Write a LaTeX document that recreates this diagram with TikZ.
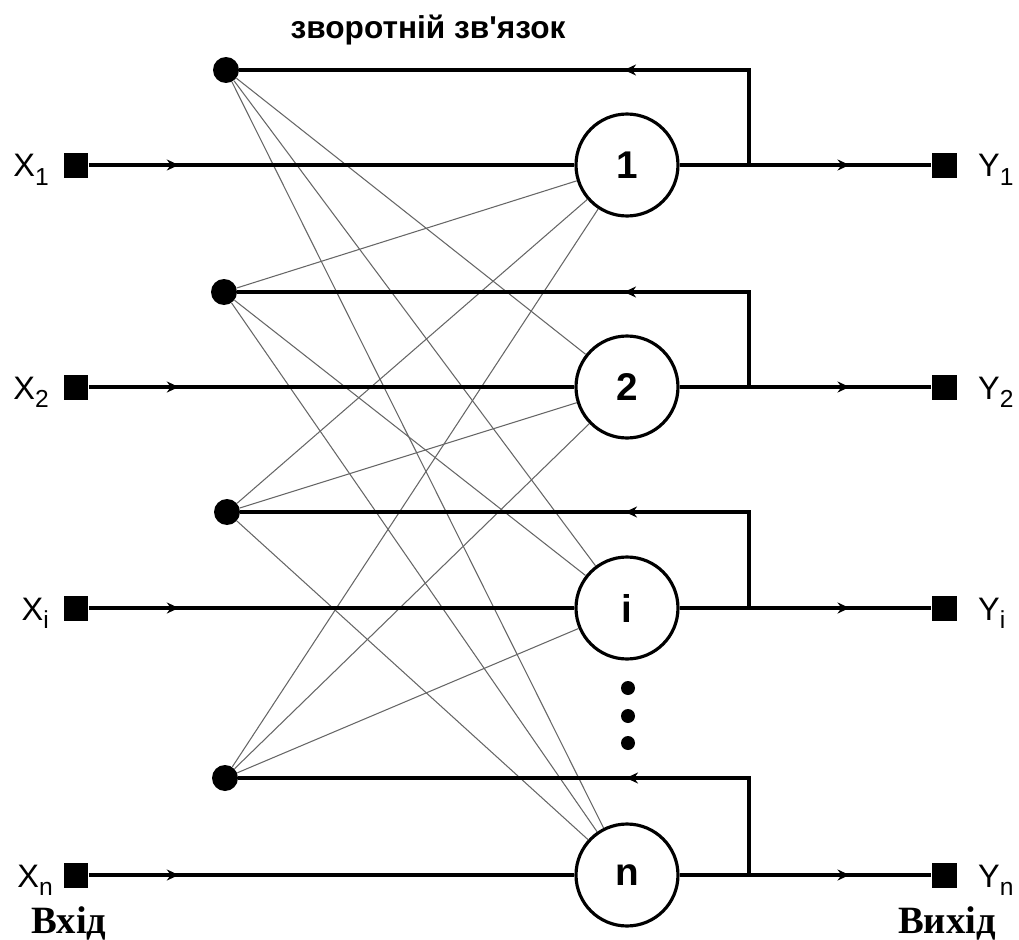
\documentclass[tikz,border=0pt]{standalone}
\usepackage{fontspec}
\setmainfont{Liberation Sans}
\newfontfamily\serifcyr{Liberation Serif}
\usetikzlibrary{positioning,arrows.meta,decorations.markings}
\newcommand{\lowsub}[1]{\raisebox{-0.25em}{\fontsize{14}{16}\selectfont #1}}
\tikzset{
  neuron/.style={circle, draw, line width=1.8pt, minimum size=2.04cm, inner sep=0pt,
                 font=\fontsize{22}{24}\selectfont\bfseries},
  fbdot/.style={circle, fill, minimum size=0.52cm, inner sep=0pt},
  ellip/.style={circle, fill, minimum size=0.28cm, inner sep=0pt},
  port/.style={rectangle, fill, minimum size=0.5cm, inner sep=0pt},
  xlab/.style={inner sep=0pt, font=\fontsize{18.5}{20}\selectfont},
  caption/.style={inner sep=0pt, font=\fontsize{22}{24}\selectfont\serifcyr\bfseries},
  bus/.style={line width=2pt},
  weight/.style={line width=0.6pt, black!60},
  midtip/.style={bus, postaction={decorate},
                 decoration={markings, mark=at position #1 with {\arrow{Stealth[length=2.4mm, width=2.2mm]}}}},
  inline/.style={midtip=1.8cm},
  outline/.style={midtip=3.4cm},
  fbline/.style={midtip=4.4cm},
}
\begin{document}
\begin{tikzpicture}[x=0.02cm, y=-0.02cm]
  \useasboundingbox (0,0) rectangle (1019,940);

  % neurons
  \node[neuron] (n1) at (627,165) {1};
  \node[neuron] (n2) at (627,387) {2};
  \node[neuron] (ni) at (627,608) {i};
  \node[neuron] (nn) at (627,875) {n};
  \node[ellip] (e1) at (628,688) {};
  \node[ellip] (e2) at (628,716) {};
  \node[ellip] (e3) at (628,743) {};

  % feedback points
  \node[fbdot] (d1) at (226,70) {};
  \node[fbdot] (d2) at (224,292) {};
  \node[fbdot] (d3) at (227,512) {};
  \node[fbdot] (d4) at (225,778) {};

  % inputs and outputs
  \node[port] (in1) at (76,165) {};
  \node[port] (in2) at (76,387) {};
  \node[port] (ini) at (76,608) {};
  \node[port] (inn) at (76,875) {};
  \node[port] (out1) at (944,165) {};
  \node[port] (out2) at (944,387) {};
  \node[port] (outi) at (944,608) {};
  \node[port] (outn) at (944,875) {};

  \node[xlab, anchor=base east] (lx1) at ([xshift=-0.28cm, yshift=-0.24cm]in1.west) {X\lowsub{1}};
  \node[xlab, anchor=base east] (lx2) at ([xshift=-0.28cm, yshift=-0.24cm]in2.west) {X\lowsub{2}};
  \node[xlab, anchor=base east] (lxi) at ([xshift=-0.28cm, yshift=-0.24cm]ini.west) {X\lowsub{i}};
  \node[xlab, anchor=base east] (lxn) at ([xshift=-0.2cm, yshift=-0.24cm]inn.west) {X\lowsub{n}};
  \node[xlab, anchor=base west] (ly1) at ([xshift=0.42cm, yshift=-0.24cm]out1.east) {Y\lowsub{1}};
  \node[xlab, anchor=base west] (ly2) at ([xshift=0.42cm, yshift=-0.24cm]out2.east) {Y\lowsub{2}};
  \node[xlab, anchor=base west] (lyi) at ([xshift=0.42cm, yshift=-0.24cm]outi.east) {Y\lowsub{i}};
  \node[xlab, anchor=base west] (lyn) at ([xshift=0.42cm, yshift=-0.24cm]outn.east) {Y\lowsub{n}};

  \node[xlab, anchor=base, font=\fontsize{18}{20}\selectfont\bfseries] (title) at (428,38) {зворотній зв\textquotesingle язок};
  \node[caption, anchor=base] (inp) at (69,933) {Вхід};
  \node[caption, anchor=base] (outp) at (947,933) {Вихід};

  % weights
  \draw[weight] (d1) -- (n2);
  \draw[weight] (d1) -- (ni);
  \draw[weight] (d1) -- (nn);
  \draw[weight] (d2) -- (n1);
  \draw[weight] (d2) -- (ni);
  \draw[weight] (d2) -- (nn);
  \draw[weight] (d3) -- (n1);
  \draw[weight] (d3) -- (n2);
  \draw[weight] (d3) -- (nn);
  \draw[weight] (d4) -- (n1);
  \draw[weight] (d4) -- (n2);
  \draw[weight] (d4) -- (ni);

  % signal lines
  \draw[inline] (in1) -- (n1);
  \draw[inline] (in2) -- (n2);
  \draw[inline] (ini) -- (ni);
  \draw[inline] (inn) -- (nn);
  \draw[outline] (n1) -- (out1);
  \draw[outline] (n2) -- (out2);
  \draw[outline] (ni) -- (outi);
  \draw[outline] (nn) -- (outn);

  % feedback loops
  \coordinate (j1) at (749,165);
  \coordinate (j2) at (749,387);
  \coordinate (ji) at (749,608);
  \coordinate (jn) at (749,875);
  \draw[fbline] (j1) |- (d1);
  \draw[fbline] (j2) |- (d2);
  \draw[fbline] (ji) |- (d3);
  \draw[fbline] (jn) |- (d4);
\end{tikzpicture}
\end{document}
